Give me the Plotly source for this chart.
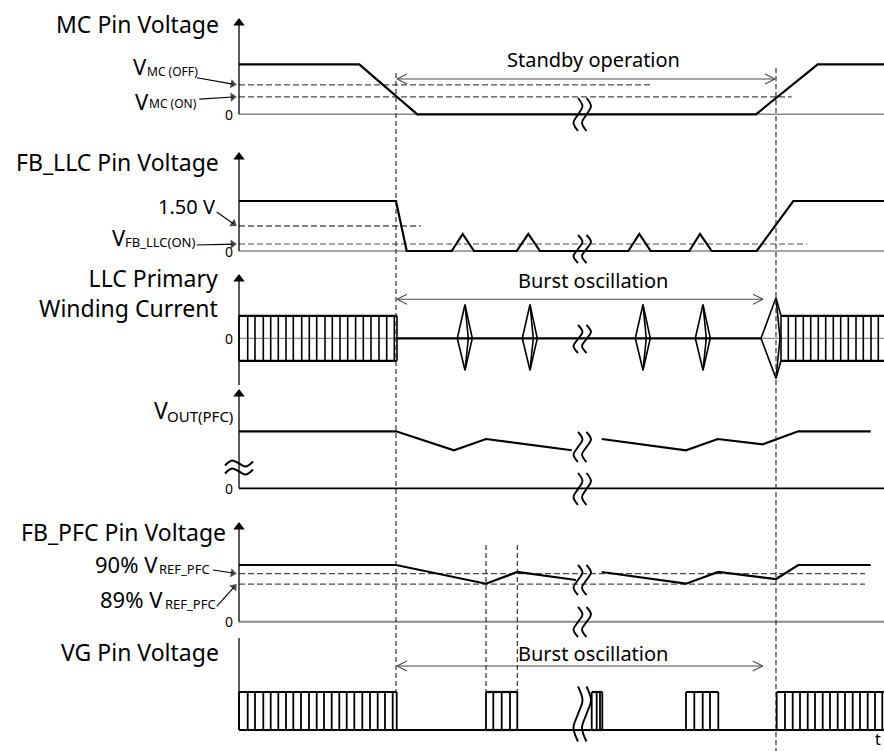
import plotly.graph_objects as go

# ------------------------------------------------------------------ data
# time is in arbitrary units from the vertical axes (0) to the end of the time axis
T_END = 645.0
T_STANDBY = 157.0          # standby operation begins
T_RESUME = 537.0           # normal operation resumes
T_BREAK = [339.0, 347.5]   # time-axis break marks
T_PFC_BURST = [247.0, 278.3]

# MC pin voltage (normalised, high level = 1)
MC_T = [0, 120.3, 178.3, 517.0, 578.7, 645.0]
MC_V = [1.0, 1.0, 0.0, 0.0, 1.0, 1.0]
MC_OFF, MC_ON = 0.59, 0.35
MC_OFF_END, MC_ON_END = 411.0, 552.7

# FB_LLC pin voltage
FBLLC_T = [0, 157.0, 167.7, 212.7, 223.7, 235.0, 277.7, 289.3, 301.0, 389.3, 400.3,
           411.7, 450.3, 461.0, 472.7, 517.7, 554.3, 645.0]
FBLLC_V = [1.0, 1.0, 0.0, 0.0, 0.34, 0.0, 0.0, 0.34, 0.0, 0.0, 0.34,
           0.0, 0.0, 0.34, 0.0, 0.0, 1.0, 1.0]
FBLLC_150, FBLLC_ON = 0.5, 0.14
FBLLC_150_END, FBLLC_ON_END = 181.7, 568.3

# LLC primary winding current
LLC_AMP = 1.0
LLC_EDGES_ON = [0, 8.7, 16.0, 24.3, 31.7, 39.3, 47.0, 54.3, 62.7, 70.3, 77.7, 86.0, 93.3,
                101.0, 108.7, 116.6, 124.3, 132.0, 140.0, 147.7, 155.3, 158.0]
LLC_EDGES_RESUME = [542.0, 549.3, 556.7, 564.3, 571.7, 579.3, 586.7, 594.3, 601.7, 609.3,
                    617.0, 624.3, 632.0, 639.3]
LLC_BURST_T = [226.0, 291.0, 404.0, 464.0]
LLC_BURST_PEAK, LLC_BURST_TROUGH = 1.5, -1.42
LLC_SOFT_PEAK, LLC_SOFT_TROUGH = 1.8, -1.78

# PFC output voltage
VOUT_T = [0, 157.0, 215.0, 247.0, 332.7, None, 362.7, 447.0, 478.7, 523.7, 559.3, 631.7]
VOUT_V = [1.0, 1.0, 0.667, 0.865, 0.667, None, 0.865, 0.667, 0.865, 0.772, 1.0, 1.0]

# FB_PFC pin voltage
FBPFC_T = [0, 157.0, 247.0, 278.3, 337.0, None, 362.7, 447.0, 479.3, 537.0, 559.3, 631.7]
FBPFC_V = [1.0, 1.0, 0.670, 0.877, 0.735, None, 0.877, 0.670, 0.877, 0.753, 1.0, 1.0]
FBPFC_90, FBPFC_89 = 0.847, 0.664
FBPFC_REF_END = 626.0

# VG pin voltage (gate pulses)
VG_EDGES_ON = [0, 8.7, 16.0, 24.3, 31.7, 39.3, 47.0, 54.3, 62.0, 70.0, 77.7, 85.0, 92.7,
               100.3, 107.7, 115.3, 123.3, 131.0, 138.7, 146.0, 153.7, 157.7]
VG_BURST_1 = [247.0, 254.3, 262.7, 271.0, 278.3]
VG_BURST_2 = [352.7, 357.7, 361.0, 363.3]
VG_BURST_3 = [447.0, 455.3, 463.7, 471.0, 479.3]
VG_EDGES_RESUME = [537.7, 546.0, 553.7, 561.0, 568.7, 576.0, 583.7, 591.0, 598.7, 606.0,
                   613.7, 621.0, 628.7, 636.0, 643.3]

# ------------------------------------------------------------------ layout
W, H = 884, 751
X0 = 239                      # pixel position of the vertical axes
FONT = "Noto Sans"
BLACK, GRAY, DGRAY = "#000000", "#8a8a8a", "#4a4a4a"

# pixel band, zero-line pixel and pixels per unit of every panel
PANELS = {
    "mc":    dict(ax="y",  top=0,   bot=132, zero=114.3, ppu=50.0),
    "fbllc": dict(ax="y2", top=132, bot=264, zero=251.0, ppu=50.0),
    "llc":   dict(ax="y3", top=264, bot=387, zero=338.3, ppu=22.5),
    "vout":  dict(ax="y4", top=387, bot=507, zero=488.3, ppu=57.0),
    "fbpfc": dict(ax="y5", top=507, bot=639, zero=621.7, ppu=56.7),
    "vg":    dict(ax="y6", top=639, bot=751, zero=730.0, ppu=38.0),
}


def pu(p, px):
    return px / PANELS[p]["ppu"]


def pv(p, ypx):
    return (PANELS[p]["zero"] - ypx) / PANELS[p]["ppu"]


fig = go.Figure()


def add_line(p, x, y, color=BLACK, width=2.0, dash=None, shape="linear"):
    fig.add_trace(go.Scatter(
        x=x, y=y, mode="lines", xaxis="x", yaxis=PANELS[p]["ax"],
        line=dict(color=color, width=width, dash=dash, shape=shape),
        hoverinfo="skip", showlegend=False, connectgaps=False))


def switching(p, edges, hi, lo, end=None, width=1.6, border=2.2):
    e_end = edges[-1] if end is None else end
    add_line(p, [edges[0], e_end, None, edges[0], e_end], [hi, hi, None, lo, lo], width=border)
    xs, ys = [], []
    for e in edges:
        xs += [e, e, None]
        ys += [lo, hi, None]
    add_line(p, xs, ys, width=width)


def double_arrow(p, x0, x1, y):
    hl, hh = 10, pu(p, 5)
    add_line(p, [x0, x1], [y, y], color=DGRAY, width=1.1)
    add_line(p, [x0 + hl, x0, x0 + hl], [y + hh, y, y - hh], color=DGRAY, width=1.1)
    add_line(p, [x1 - hl, x1, x1 - hl], [y + hh, y, y - hh], color=DGRAY, width=1.1)


def head_arrow(p, x_tail, y_tail_px, x_tip, y_tip_px, size=8, width=1.1):
    """straight arrow with a filled head; x in time units (= px), y in page px"""
    dx, dy = x_tip - x_tail, y_tip_px - y_tail_px
    ln = (dx * dx + dy * dy) ** 0.5
    back = size / 2.0
    xe, ye = x_tip - dx / ln * back, y_tip_px - dy / ln * back
    fig.add_trace(go.Scatter(
        x=[x_tail, xe], y=[pv(p, y_tail_px), pv(p, ye)], mode="lines+markers",
        xaxis="x", yaxis=PANELS[p]["ax"], cliponaxis=False,
        line=dict(color=BLACK, width=width),
        marker=dict(symbol="triangle-up", size=[0, size], angleref="previous",
                    color=BLACK, line=dict(width=0)),
        hoverinfo="skip", showlegend=False))


DASH_H = "6px,3px"
DASH_V = "5px,3px"

# ---- baselines
for p, col, wd in [("mc", GRAY, 1.6), ("fbllc", GRAY, 1.6), ("llc", GRAY, 1.3),
                   ("vout", BLACK, 1.8), ("fbpfc", GRAY, 2.0)]:
    add_line(p, [0, T_END], [0, 0], color=col, width=wd)

# ---- MC
add_line("mc", [0, MC_OFF_END], [MC_OFF, MC_OFF], color=DGRAY, width=1.2, dash=DASH_H)
add_line("mc", [0, MC_ON_END], [MC_ON, MC_ON], color=DGRAY, width=1.2, dash=DASH_H)
add_line("mc", MC_T, MC_V, width=2.2)
double_arrow("mc", T_STANDBY + 1, T_RESUME - 1, pv("mc", 79))

# ---- FB_LLC
add_line("fbllc", [0, FBLLC_150_END], [FBLLC_150, FBLLC_150], color=BLACK, width=1.1, dash=DASH_H)
add_line("fbllc", [0, FBLLC_ON_END], [FBLLC_ON, FBLLC_ON], color=DGRAY, width=1.2, dash=DASH_H)
add_line("fbllc", FBLLC_T, FBLLC_V, width=2.2)

# ---- LLC current
switching("llc", LLC_EDGES_ON, LLC_AMP, -LLC_AMP, width=1.6)
add_line("llc", [LLC_EDGES_ON[-1], T_RESUME - 15], [0, 0], width=2.2)
for tc in LLC_BURST_T:
    add_line("llc", [tc - 7.7, tc, tc + 7.3, tc, tc - 7.7, None, tc, tc + 3.3, tc],
             [0, LLC_BURST_PEAK, 0, LLC_BURST_TROUGH, 0, None, LLC_BURST_PEAK, 0, LLC_BURST_TROUGH],
             width=1.6)
# soft restart envelope
rs = LLC_EDGES_RESUME[0]
add_line("llc", [T_RESUME - 15, T_RESUME, rs, None, T_RESUME - 15, T_RESUME, rs, None,
                 T_RESUME, T_RESUME + 4, T_RESUME],
         [0, LLC_SOFT_PEAK, LLC_AMP, None, 0, LLC_SOFT_TROUGH, -LLC_AMP, None,
          LLC_SOFT_PEAK, 0, LLC_SOFT_TROUGH], width=1.6)
switching("llc", LLC_EDGES_RESUME, LLC_AMP, -LLC_AMP, end=T_END, width=1.6)
double_arrow("llc", T_STANDBY + 1, 524, pv("llc", 299.3))

# ---- VOUT
add_line("vout", VOUT_T, VOUT_V, width=2.2)
for yc in (463.5, 471.5):
    add_line("vout", [-14, -7, 0, 7, 14],
             [pv("vout", yc + 2), pv("vout", yc - 3), pv("vout", yc), pv("vout", yc + 3), pv("vout", yc - 2)],
             width=2.0, shape="spline")

# ---- FB_PFC
add_line("fbpfc", [0, FBPFC_REF_END], [FBPFC_90, FBPFC_90], color=DGRAY, width=1.2, dash=DASH_H)
add_line("fbpfc", [0, FBPFC_REF_END], [FBPFC_89, FBPFC_89], color=DGRAY, width=1.2, dash=DASH_H)
add_line("fbpfc", FBPFC_T, FBPFC_V, width=2.2)

# ---- VG
add_line("vg", [0, T_END], [0, 0], width=2.2)
switching("vg", VG_EDGES_ON, 1.0, 0.0, width=1.8)
for b in (VG_BURST_1, VG_BURST_2, VG_BURST_3):
    switching("vg", b, 1.0, 0.0, width=1.8)
switching("vg", VG_EDGES_RESUME, 1.0, 0.0, end=T_END, width=1.8)
double_arrow("vg", T_STANDBY + 1, 523.7, pv("vg", 666))

# ---- time-axis break marks
BREAKS = [("mc", 114.5, 33), ("fbllc", 249, 28), ("llc", 339, 28), ("vout", 447, 30),
          ("vout", 489, 32), ("fbpfc", 580, 30), ("fbpfc", 622, 30), ("vg", 714, 55)]
for p, c, h in BREAKS:
    for xb in T_BREAK:
        ys = [pv(p, c - h / 2), pv(p, c - h / 4), pv(p, c), pv(p, c + h / 4), pv(p, c + h / 2)]
        add_line(p, [xb, xb + 4.5, xb, xb - 4.5, xb], ys, width=1.9, shape="spline")

# ---- vertical axes (lines) with filled arrowheads
shapes = []
AXES = [("mc", 18, 114.3), ("fbllc", 152, 251), ("llc", 274, 385),
        ("vout", 389, 488.3), ("fbpfc", 522, 621.7), ("vg", 632, 730)]
for p, tip, bottom in AXES:
    shapes.append(dict(type="line", xref="x", yref="paper", x0=0, x1=0,
                       y0=1 - bottom / H, y1=1 - (tip + 6) / H,
                       line=dict(color=BLACK, width=1.3)))
    fig.add_trace(go.Scatter(
        x=[0], y=[pv(p, tip + 5)], mode="markers", xaxis="x", yaxis=PANELS[p]["ax"],
        cliponaxis=False, marker=dict(symbol="triangle-up", size=10, color=BLACK, line=dict(width=0)),
        hoverinfo="skip", showlegend=False))

# ---- vertical dashed time markers
for t, y0, y1 in [(T_STANDBY, 73, 692), (T_RESUME, 68, 751),
                  (T_PFC_BURST[0], 545, 692), (T_PFC_BURST[1], 545, 692)]:
    shapes.append(dict(type="line", xref="x", yref="paper", x0=t, x1=t,
                       y0=1 - y0 / H, y1=1 - y1 / H,
                       line=dict(color="#222222", width=1.1, dash=DASH_V)))

# ---- annotations
ann = []


def text(s, xpx, ypx, size, xanchor="right", yanchor="middle"):
    ann.append(dict(text=s, x=xpx / W, y=1 - ypx / H, xref="paper", yref="paper",
                    xanchor=xanchor, yanchor=yanchor, showarrow=False, borderpad=0,
                    font=dict(family=FONT, size=size, color=BLACK)))


# panel titles
for s, xr, yc in [("MC Pin Voltage", 220, 24), ("FB_LLC Pin Voltage", 220, 161.7),
                  ("FB_PFC Pin Voltage", 227, 531.7), ("VG Pin Voltage", 220, 651.7)]:
    text(s, xr, yc, 23)
ann.append(dict(text="LLC Primary<br>Winding Current", x=220 / W, y=1 - 292.5 / H,
                xref="paper", yref="paper", xanchor="right", yanchor="middle", align="right",
                showarrow=False, font=dict(family=FONT, size=23, color=BLACK)))

# symbols with subscripts: (main, size, right px, centre y, subscript, size, left px, centre y)
SYMBOLS = [
    ("V", 22, 147.5, 66.0, "MC (OFF)", 12, 145.5, 71.3),
    ("V", 22, 150.0, 100.8, "MC (ON)", 12, 147.5, 103.7),
    ("V", 22, 127.0, 237.5, "FB_LLC(ON)", 13, 124.0, 241.7),
    ("90% V", 22, 159.0, 563.7, "REF_PFC", 13, 158.0, 569.0),
    ("89% V", 22, 164.0, 599.0, "REF_PFC", 13, 163.5, 604.0),
    ("V", 23, 168.5, 410.0, "OUT(PFC)", 15, 165.7, 415.8),
]
for m, ms, mr, my, s, ss, sl, sy in SYMBOLS:
    text(m, mr, my, ms, xanchor="right")
    text(s, sl, sy, ss, xanchor="left")
text("1.50 V", 216, 206, 20)

# threshold arrows
for p, val, axp, ayp in [("mc", MC_OFF, -39.7, -7), ("mc", MC_ON, -37.4, 2.3),
                         ("fbllc", FBLLC_150, -20, -14), ("fbllc", FBLLC_ON, -40, 1),
                         ("fbpfc", FBPFC_90, -23.7, -3.7), ("fbpfc", FBPFC_89, -20, 22.4)]:
    tip_x, tip_y = -2.3, PANELS[p]["zero"] - val * PANELS[p]["ppu"]
    head_arrow(p, tip_x + axp, tip_y + ayp, tip_x, tip_y)

# zero labels
for p in ["mc", "fbllc", "llc", "vout", "fbpfc"]:
    text("0", 234, PANELS[p]["zero"], 14)

# notes
text("Standby operation", 593, 60, 20, xanchor="center")
text("Burst oscillation", 592.5, 281, 20, xanchor="center")
text("Burst oscillation", 592.5, 653, 20, xanchor="center")
text("t", 878, 751, 16, xanchor="center", yanchor="bottom")

layout = dict(
    width=W, height=H, margin=dict(l=0, r=0, t=0, b=0),
    paper_bgcolor="white", plot_bgcolor="rgba(0,0,0,0)",
    showlegend=False, shapes=shapes, annotations=ann,
    xaxis=dict(domain=[0, 1], range=[-X0, W - X0], visible=False, fixedrange=True),
)
for i, (p, c) in enumerate(PANELS.items()):
    key = "yaxis" if i == 0 else f"yaxis{i + 1}"
    layout[key] = dict(domain=[1 - c["bot"] / H, 1 - c["top"] / H],
                       range=[-(c["bot"] - c["zero"]) / c["ppu"], (c["zero"] - c["top"]) / c["ppu"]],
                       visible=False, fixedrange=True, anchor="x")
fig.update_layout(**layout)
fig.write_html("out.html", config={"displayModeBar": False},
               post_script="document.body.style.margin='0px';document.body.style.overflow='hidden';")
